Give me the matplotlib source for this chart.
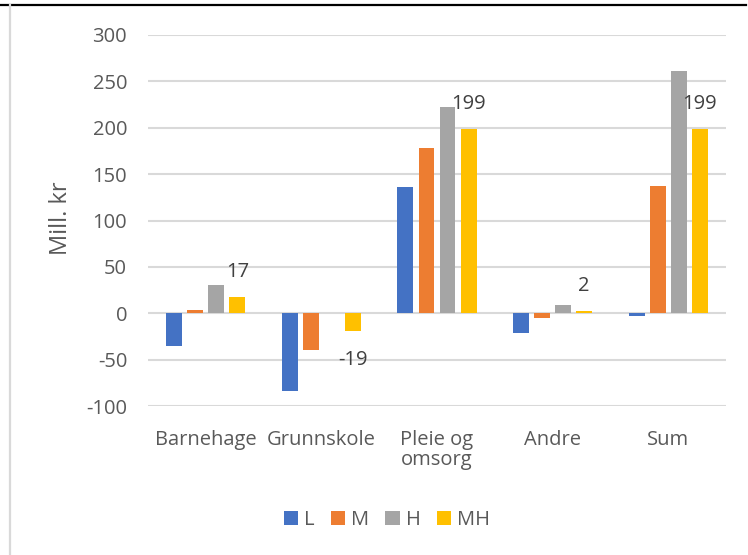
import numpy as np
import matplotlib
matplotlib.use("Agg")
import matplotlib.pyplot as plt
from matplotlib.lines import Line2D

plt.rcParams['font.family'] = ['Open Sans', 'DejaVu Sans']
plt.rcParams['axes.unicode_minus'] = False

categories = ["Barnehage", "Grunnskole", "Pleie og\nomsorg", "Andre", "Sum"]
series = ["L", "M", "H", "MH"]
vals_L = [-35, -84, 136, -21, -3]
vals_M = [3, -40, 178, -5, 137]
vals_H = [30, 0, 222, 9, 261]
vals_MH = [17, -19, 199, 2, 199]
colors = ["#4472C4", "#ED7D31", "#A5A5A5", "#FFC000"]

W, H = 748, 555
fig = plt.figure(figsize=(W / 100, H / 100), dpi=100)
ax = fig.add_axes([148 / W, 1 - 406 / H, (726 - 148) / W, (406 - 35) / H])

x = np.arange(len(categories))
pitch = 0.182
width = 0.138
all_vals = [vals_L, vals_M, vals_H, vals_MH]
for i, (name, v, c) in enumerate(zip(series, all_vals, colors)):
    ax.bar(x + (i - 1.5) * pitch, v, width, color=c, label=name, zorder=3)

# data labels for MH
for xi, v in zip(x, vals_MH):
    off = 18 if v >= 0 else -21
    ax.annotate(f"{v}", (xi + 1.5 * pitch, v), xytext=(0, off),
                textcoords="offset points", ha="center", va="center",
                fontsize=14.5, color="#404040")

ax.set_xlim(-0.5, 4.5)
ax.set_ylim(-100, 300)
ax.set_yticks(range(-100, 301, 50))
ax.set_xticks(x)
ax.set_xticklabels(categories, linespacing=1.0)
ax.tick_params(axis="both", length=0, labelsize=14.5, labelcolor="#595959")
ax.tick_params(axis="y", pad=15)
ax.tick_params(axis="x", pad=17)
ax.grid(axis="y", color="#D9D9D9", linewidth=1.5, zorder=0)
for s in ax.spines.values():
    s.set_visible(False)

fig.text(61 / W, 1 - 218 / H, "Mill. kr", rotation=90, ha="center", va="center",
         fontsize=17, color="#595959")

fig.legend(loc="center", bbox_to_anchor=(387 / W, 1 - 520 / H), ncol=4,
           frameon=False, fontsize=14.5, handlelength=0.7, handleheight=0.7,
           handletextpad=0.3, columnspacing=0.8, labelcolor="#595959")

# frame lines
fig.add_artist(Line2D([0, 746 / W], [1 - 4.5 / H, 1 - 4.5 / H], color="black", lw=1.6))
fig.add_artist(Line2D([9.5 / W, 9.5 / W], [0, 1 - 5 / H], color="#D9D9D9", lw=1.6))

fig.savefig("out.png", dpi=100)
